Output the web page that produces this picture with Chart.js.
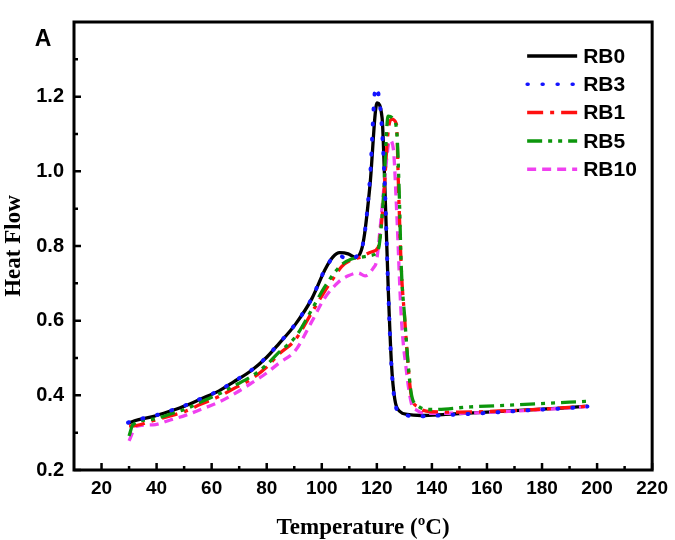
<!DOCTYPE html>
<html>
<head>
<meta charset="utf-8">
<script src="https://cdn.jsdelivr.net/npm/chart.js@4.4.1/dist/chart.umd.min.js"></script>
<style>
  body{margin:0;background:#fff;}
  #wrap{width:675px;height:540px;position:relative;}
</style>
</head>
<body>
<div id="wrap"><canvas id="plot"></canvas></div>
<script>
// tick values
const xTicks = [20, 40, 60, 80, 100, 120, 140, 160, 180, 200, 220]
const xMinor = [30, 50, 70, 90, 110, 130, 150, 170, 190, 210]
const yTicks = [0.2, 0.4, 0.6, 0.8, 1.0, 1.2]
const yMinor = [0.3, 0.5, 0.7, 0.9, 1.1, 1.3]

// RB0
const rb0T = [29.6, 32, 38.6, 45, 50.7, 56, 62.7, 68, 74.7, 80, 84.4, 90.4, 96.4, 101.2, 104, 106.5, 109.6, 112.4, 114.4, 115.5, 117.5, 120.1, 121.9, 122.9, 124.1, 125.3, 126.5, 128.5, 131, 136, 145, 160, 175, 190, 196.5]
const rb0Y = [0.325, 0.332, 0.343, 0.358, 0.373, 0.39, 0.412, 0.436, 0.468, 0.502, 0.538, 0.59, 0.659, 0.737, 0.77, 0.782, 0.779, 0.769, 0.789, 0.83, 0.962, 1.183, 1.144, 0.962, 0.694, 0.486, 0.39, 0.356, 0.349, 0.346, 0.349, 0.355, 0.361, 0.367, 0.371]
// RB3
const rb3T = [29.6, 32, 38.6, 45, 50.7, 56, 62.7, 68, 74.7, 80, 84.4, 90.4, 96.4, 101.2, 104, 106.5, 109, 113.2, 114.6, 115.7, 117.5, 119.6, 121.5, 122.9, 124.1, 125.3, 126.5, 128.5, 131, 136, 145, 160, 175, 190, 196.5]
const rb3Y = [0.327, 0.333, 0.344, 0.359, 0.374, 0.391, 0.413, 0.437, 0.469, 0.503, 0.539, 0.591, 0.66, 0.738, 0.768, 0.774, 0.765, 0.776, 0.795, 0.84, 0.98, 1.226, 1.15, 0.96, 0.69, 0.48, 0.385, 0.352, 0.346, 0.344, 0.347, 0.353, 0.36, 0.366, 0.37]
// RB1
const rb1T = [30, 31, 38.6, 45, 50.7, 56, 62.7, 68, 74.7, 80, 84.4, 90.4, 96.4, 101, 104.8, 107.2, 110.8, 114.4, 118, 120.5, 122.3, 124, 125.3, 127.1, 127.9, 128.9, 130.1, 131.3, 132.5, 134.9, 139.7, 150, 165, 180, 196.5]
const rb1Y = [0.318, 0.318, 0.332, 0.345, 0.358, 0.376, 0.397, 0.418, 0.445, 0.476, 0.51, 0.549, 0.622, 0.678, 0.72, 0.745, 0.763, 0.771, 0.784, 0.797, 0.91, 1.10, 1.14, 1.127, 0.95, 0.737, 0.607, 0.486, 0.40, 0.369, 0.356, 0.355, 0.358, 0.363, 0.371]
// RB5
const rb5T = [30, 31.4, 38.6, 45, 50.7, 56, 62.7, 68, 74.7, 80, 84.4, 90.4, 96.4, 101, 104.8, 107.2, 110.8, 114.4, 118, 120.5, 122.3, 124.1, 126, 127.3, 128.1, 128.9, 130.1, 131.3, 132.5, 134.9, 139.7, 154, 172, 196.5]
const rb5Y = [0.291, 0.321, 0.336, 0.35, 0.364, 0.382, 0.404, 0.425, 0.452, 0.482, 0.515, 0.556, 0.63, 0.69, 0.73, 0.75, 0.765, 0.77, 0.775, 0.79, 0.92, 1.148, 1.14, 1.1, 0.95, 0.74, 0.61, 0.49, 0.405, 0.372, 0.362, 0.369, 0.375, 0.384]
// RB10
const rb10T = [30, 32.6, 38.6, 45, 50.7, 56, 62.7, 68, 74.7, 80, 84.4, 90.4, 96.4, 101, 106, 109.6, 113.2, 115.7, 118.7, 119.9, 121.1, 122.5, 124.7, 126, 127.1, 128.9, 130.7, 132.5, 134.5, 138, 150, 165, 180, 196.5]
const rb10Y = [0.278, 0.317, 0.321, 0.334, 0.347, 0.362, 0.382, 0.403, 0.434, 0.46, 0.486, 0.52, 0.598, 0.66, 0.703, 0.72, 0.728, 0.72, 0.741, 0.76, 0.84, 0.95, 1.083, 1.06, 0.91, 0.607, 0.468, 0.38, 0.36, 0.352, 0.352, 0.356, 0.362, 0.37]

const pts = (t, y) => t.map((v, i) => ({x: v, y: y[i]}))

const SANS = '"Liberation Sans", Arial, sans-serif'
const SERIF = '"Liberation Serif", "Times New Roman", serif'

// legend order = dataset order, draw order set by `order`
const series = [
  {label: 'RB0', data: pts(rb0T, rb0Y), color: '#000000', dash: [], cap: 'butt', order: 5},
  {label: 'RB3', data: pts(rb3T, rb3Y), color: '#1414ff', dash: [1, 14], cap: 'round', order: 1},
  {label: 'RB1', data: pts(rb1T, rb1Y), color: '#ff1010', dash: [16, 7, 4, 7], cap: 'butt', order: 3},
  {label: 'RB5', data: pts(rb5T, rb5Y), color: '#0c960c', dash: [15, 6, 4, 6, 4, 6], cap: 'butt', order: 2},
  {label: 'RB10', data: pts(rb10T, rb10Y), color: '#f040f0', dash: [9, 6], cap: 'butt', order: 4}
]

// box around plot, inward ticks, panel letter
const frame = {
  id: 'frame',
  afterDraw(chart){
    const {ctx, chartArea: a, scales: {x, y}} = chart
    ctx.save()
    ctx.strokeStyle = '#000'
    ctx.lineWidth = 3
    ctx.strokeRect(a.left, a.top, a.right - a.left, a.bottom - a.top)
    ctx.lineWidth = 2.5
    ctx.beginPath()
    const xt = (vals, len) => vals.forEach(v => {
      const px = x.getPixelForValue(v)
      ctx.moveTo(px, a.bottom); ctx.lineTo(px, a.bottom - len)
    })
    const yt = (vals, len) => vals.forEach(v => {
      const py = y.getPixelForValue(v)
      ctx.moveTo(a.left, py); ctx.lineTo(a.left + len, py)
    })
    xt(xTicks, 7); xt(xMinor, 4)
    yt(yTicks, 7); yt(yMinor, 4)
    ctx.stroke()
    ctx.fillStyle = '#000'
    ctx.font = 'bold 23px ' + SANS
    ctx.textAlign = 'center'
    ctx.textBaseline = 'middle'
    ctx.fillText('A', a.left - 31, a.top + 18)
    ctx.restore()
  }
}

const legendBox = {
  id: 'legendBox',
  afterDraw(chart){
    const {ctx, chartArea: a} = chart
    chart.data.datasets.forEach((ds, i) => {
      const ly = a.top + 34 + i * 28.3
      const lx = a.right - 127
      ctx.save()
      ctx.strokeStyle = ds.borderColor
      ctx.lineWidth = 3.5
      ctx.lineCap = ds.borderCapStyle
      ctx.setLineDash(ds.borderDash)
      ctx.beginPath(); ctx.moveTo(lx + 2, ly); ctx.lineTo(lx + 52, ly); ctx.stroke()
      ctx.setLineDash([])
      ctx.fillStyle = '#000'
      ctx.font = 'bold 21px ' + SANS
      ctx.textBaseline = 'middle'
      ctx.fillText(ds.label, lx + 58, ly + 1)
      ctx.restore()
    })
  }
}

new Chart(document.getElementById('plot'), {
  type: 'line',
  data: {
    datasets: series.map(s => ({
      label: s.label,
      data: s.data,
      borderColor: s.color,
      backgroundColor: s.color,
      borderDash: s.dash,
      borderCapStyle: s.cap,
      borderWidth: s.cap === 'round' ? 4 : 3.3,
      order: s.order,
      pointRadius: 0,
      fill: false,
      cubicInterpolationMode: 'monotone'
    }))
  },
  options: {
    responsive: true,
    maintainAspectRatio: false,
    animation: false,
    layout: {padding: {top: 8, right: 18, left: 0, bottom: 0}},
    plugins: {legend: {display: false}, tooltip: {enabled: false}},
    scales: {
      x: {
        type: 'linear',
        min: 10, max: 220,
        afterFit: s => { s.height = 70 },
        afterBuildTicks: s => { s.ticks = xTicks.map(v => ({value: v})) },
        grid: {display: false, drawTicks: false},
        border: {display: false},
        ticks: {color: '#000', padding: 7, font: {family: SANS, size: 19, weight: 'bold'}, autoSkip: false, maxRotation: 0},
        title: {display: true, text: 'Temperature (ºC)', color: '#000', padding: 0,
          font: {family: SERIF, size: 23, weight: 'bold', lineHeight: 1}}
      },
      y: {
        min: 0.2, max: 1.4,
        afterFit: s => { s.width = 74 },
        afterBuildTicks: s => { s.ticks = yTicks.map(v => ({value: v})) },
        grid: {display: false, drawTicks: false},
        border: {display: false},
        ticks: {color: '#000', padding: 10, font: {family: SANS, size: 20, weight: 'bold'},
          callback: v => v.toFixed(1)},
        title: {display: true, text: 'Heat Flow', color: '#000', padding: {top: 3},
          font: {family: SERIF, size: 23, weight: 'bold', lineHeight: 1}}
      }
    }
  },
  plugins: [frame, legendBox]
})
</script>
</body>
</html>
